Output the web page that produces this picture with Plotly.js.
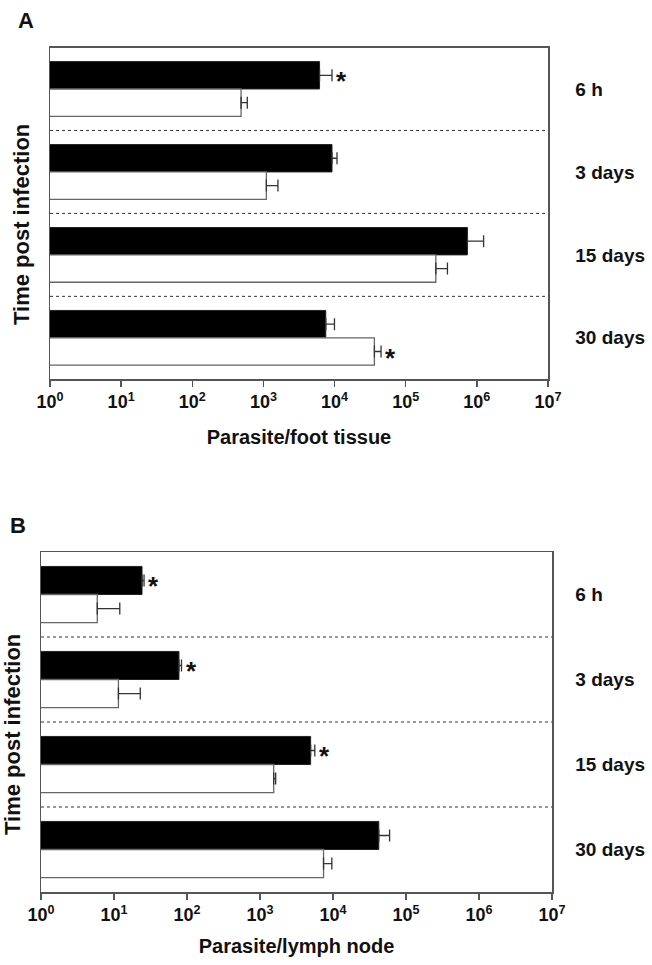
<!DOCTYPE html>
<html>
<head>
<meta charset="utf-8">
<script src="https://cdn.plot.ly/plotly-3.0.1.min.js"></script>
<style>html,body{margin:0;padding:0;background:#fff;}#chart{width:652px;height:965px;}</style>
</head>
<body>
<div id="chart"></div>
<script>
// ---- data ----
var categories = ['6 h', '3 days', '15 days', '30 days'];

// Panel A: parasite / foot tissue
var footBlack    = [6150, 9200, 737000, 7520];
var footBlackSem = [3050, 1620, 507000, 2450];
var footWhite    = [485, 1100, 265000, 36300];
var footWhiteSem = [108, 500, 121000, 8700];
var footStarBlack = [true, false, false, false];
var footStarWhite = [false, false, false, true];

// Panel B: parasite / lymph node
var lymphBlack    = [24.2, 77.6, 4940, 42400];
var lymphBlackSem = [1.6, 6.5, 690, 17200];
var lymphWhite    = [5.9, 11.5, 1540, 7420];
var lymphWhiteSem = [6.1, 11.4, 100, 2220];
var lymphStarBlack = [true, true, true, false];
var lymphStarWhite = [false, false, false, false];

var tickValues = [1, 10, 100, 1000, 1e4, 1e5, 1e6, 1e7];
var tickLabels = ['10<sup>0</sup>', '10<sup>1</sup>', '10<sup>2</sup>', '10<sup>3</sup>',
                  '10<sup>4</sup>', '10<sup>5</sup>', '10<sup>6</sup>', '10<sup>7</sup>'];

// ---- layout helpers ----
var W = 652, H = 965;
function px(x) { return x / W; }
function py(y) { return 1 - y / H; }
var FONT = 'Liberation Sans, Arial, sans-serif';
var LINE = '#555';
var BW = 0.33;

function barPair(xa, ya, vb, sb, vw, sw) {
  var common = {
    type: 'bar', orientation: 'h', y: categories, xaxis: xa, yaxis: ya,
    width: BW, hoverinfo: 'x+y', showlegend: false
  };
  var black = Object.assign({}, common, {
    x: vb, offset: -BW,
    marker: {color: '#000', line: {color: '#222', width: 1}},
    error_x: {type: 'data', symmetric: false, array: sb, arrayminus: sb.map(function(){return 0;}),
              color: '#333', thickness: 1.3, width: 6}
  });
  var white = Object.assign({}, common, {
    x: vw, offset: 0,
    marker: {color: '#fff', line: {color: '#666', width: 1.3}},
    error_x: {type: 'data', symmetric: false, array: sw, arrayminus: sw.map(function(){return 0;}),
              color: '#333', thickness: 1.3, width: 6}
  });
  return [black, white];
}

var data = [].concat(
  barPair('x', 'y', footBlack, footBlackSem, footWhite, footWhiteSem),
  barPair('x2', 'y2', lymphBlack, lymphBlackSem, lymphWhite, lymphWhiteSem)
);

function xAxis(dom, anchor, title, standoff) {
  return {
    domain: dom, anchor: anchor, type: 'log', range: [0, 7],
    tickmode: 'array', tickvals: tickValues, ticktext: tickLabels,
    ticks: 'outside', ticklen: 6, tickwidth: 1.5, tickcolor: LINE,
    showline: true, mirror: true, linecolor: LINE, linewidth: 1.5,
    showgrid: false, zeroline: false,
    tickfont: {family: FONT, size: 18, color: '#111', weight: 'bold'},
    title: {text: title, font: {family: FONT, size: 20, color: '#111', weight: 'bold'}, standoff: standoff}
  };
}
function yAxis(dom, anchor, standoff) {
  return {
    domain: dom, anchor: anchor, type: 'category',
    categoryorder: 'array', categoryarray: categories, autorange: 'reversed',
    side: 'right', ticks: '', ticklabelstandoff: standoff,
    showline: true, mirror: true, linecolor: LINE, linewidth: 1.5,
    showgrid: false, zeroline: false,
    tickfont: {family: FONT, size: 19, color: '#111', weight: 'bold'}
  };
}

var shapes = [];
[['x', 'y'], ['x2', 'y2']].forEach(function(p) {
  for (var i = 0; i < categories.length - 1; i++) {
    shapes.push({type: 'line', xref: p[0] + ' domain', yref: p[1], x0: 0, x1: 1, y0: i + 0.5, y1: i + 0.5,
                 line: {color: '#333', width: 1, dash: 'dot'}});
  }
});

var annotations = [];
var starFont = {family: FONT, size: 26, color: '#111', weight: 'bold'};
function stars(xa, ya, vb, sb, flagsB, vw, sw, flagsW) {
  for (var i = 0; i < categories.length; i++) {
    if (flagsB[i]) annotations.push({xref: xa, yref: ya, x: Math.log10(vb[i] + sb[i]), y: i - BW / 2,
      text: '*', showarrow: false, xanchor: 'left', yanchor: 'middle', xshift: 2, yshift: -6, font: starFont});
    if (flagsW[i]) annotations.push({xref: xa, yref: ya, x: Math.log10(vw[i] + sw[i]), y: i + BW / 2,
      text: '*', showarrow: false, xanchor: 'left', yanchor: 'middle', xshift: 2, yshift: -6, font: starFont});
  }
}
stars('x', 'y', footBlack, footBlackSem, footStarBlack, footWhite, footWhiteSem, footStarWhite);
stars('x2', 'y2', lymphBlack, lymphBlackSem, lymphStarBlack, lymphWhite, lymphWhiteSem, lymphStarWhite);

// panel letters
annotations.push({xref: 'paper', yref: 'paper', x: px(16), y: py(6), text: 'A', showarrow: false,
  xanchor: 'left', yanchor: 'top', font: {family: FONT, size: 22, color: '#111', weight: 'bold'}});
annotations.push({xref: 'paper', yref: 'paper', x: px(8), y: py(511), text: 'B', showarrow: false,
  xanchor: 'left', yanchor: 'top', font: {family: FONT, size: 22, color: '#111', weight: 'bold'}});
// y-axis titles
annotations.push({xref: 'paper', yref: 'paper', x: px(22), y: py(225), text: 'Time post infection',
  showarrow: false, textangle: -90, xanchor: 'center', yanchor: 'middle',
  font: {family: FONT, size: 22, color: '#111', weight: 'bold'}});
annotations.push({xref: 'paper', yref: 'paper', x: px(12), y: py(735), text: 'Time post infection',
  showarrow: false, textangle: -90, xanchor: 'center', yanchor: 'middle',
  font: {family: FONT, size: 22, color: '#111', weight: 'bold'}});

var layout = {
  width: W, height: H, margin: {l: 0, r: 0, t: 0, b: 0},
  paper_bgcolor: '#fff', plot_bgcolor: '#fff',
  barmode: 'overlay', showlegend: false,
  xaxis: xAxis([px(50), px(548)], 'y', 'Parasite/foot tissue', 18),
  yaxis: yAxis([py(379.3), py(47.5)], 'x', 22),
  xaxis2: xAxis([px(41), px(552)], 'y2', 'Parasite/lymph node', 15),
  yaxis2: yAxis([py(892), py(552)], 'x2', 18),
  shapes: shapes, annotations: annotations
};

Plotly.newPlot('chart', data, layout, {staticPlot: true});
</script>
</body>
</html>
